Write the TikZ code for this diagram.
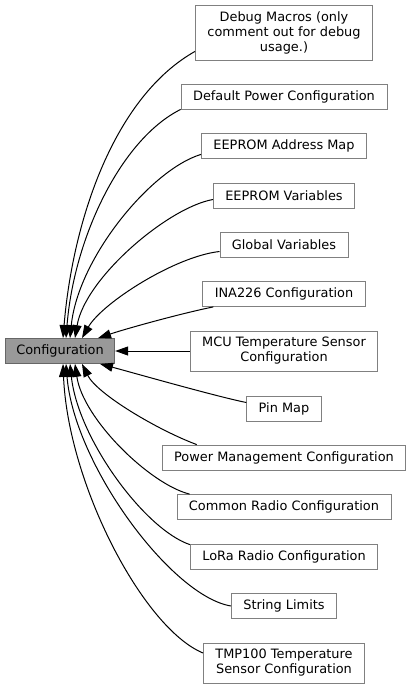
\documentclass[tikz,border=0pt]{standalone}
\usepackage{fontspec}
\setmainfont{DejaVu Sans}
\usetikzlibrary{arrows.meta}

\definecolor{boxgray}{HTML}{808080}
\definecolor{curgray}{HTML}{999999}
\definecolor{curline}{HTML}{666666}

\begin{document}
\begin{tikzpicture}
      [x=1pt,y=-1pt,
       every node/.style={draw=boxgray,fill=white,line width=0.8pt,
         inner xsep=12pt,inner ysep=2pt,minimum height=25pt,align=center,
         font=\fontsize{12.9}{15}\selectfont}]

      \tikzstyle{current} = [fill=curgray,draw=curline,inner xsep=11pt]
      \tikzstyle{conn} = [line width=1pt,-{Triangle[length=13pt,width=9pt]}]

      \useasboundingbox (0,0) rectangle (411,689);

      \node[current] (cfg) at (60,351) {Configuration};

      \node (dbg)      at (284,32.5)  [minimum height=55pt] {Debug Macros (only\\comment out for debug\\usage.)};
      \node (defpwr)   at (284,96.5)  {Default Power Configuration};
      \node (eeaddr)   at (284,145.5) {EEPROM Address Map};
      \node (eevar)    at (284,195.5) {EEPROM Variables};
      \node (globvar)  at (284,244.5) {Global Variables};
      \node (ina)      at (284,294)   {INA226 Configuration};
      \node (mcu)      at (284,351)   [minimum height=40pt] {MCU Temperature Sensor\\Configuration};
      \node (pinmap)   at (284,408.5) {Pin Map};
      \node (pwrmgmt)  at (284,457.5) {Power Management Configuration};
      \node (comradio) at (284,507)   {Common Radio Configuration};
      \node (lora)     at (284,556.5) {LoRa Radio Configuration};
      \node (strlim)   at (284,606)   {String Limits};
      \node (tmp)      at (284,663)   [minimum height=40pt] {TMP100 Temperature\\Sensor Configuration};

      % upper fan
      \draw[conn] ([yshift=9pt]dbg.south west) .. controls +(-80,45) and +(10,-120) .. ([xshift=3pt]cfg.north);
      \draw[conn] (defpwr.south west) .. controls +(-60,30) and +(8,-100) .. ([xshift=6pt]cfg.north);
      \draw[conn] ([yshift=4pt]eeaddr.south west) .. controls +(-50,15) and +(8,-80) .. ([xshift=10pt]cfg.north);
      \draw[conn] ([yshift=-4pt]eevar.west) .. controls +(-45,8) and +(10,-60) .. ([xshift=15pt]cfg.north);
      \draw[conn] ([yshift=-7pt]globvar.west) .. controls +(-45,5) and +(20,-35) .. ([xshift=22pt]cfg.north);
      \draw[conn] ([xshift=11pt]ina.south west) .. controls +(-30,6) and +(30,-10) .. ([xshift=38pt]cfg.north);

      \draw[conn] (mcu.west) -- (cfg.east);

      % lower fan
      \draw[conn] ([yshift=6pt]pinmap.west) .. controls +(-30,-6) and +(30,8) .. ([xshift=40pt]cfg.south);
      \draw[conn] ([xshift=35pt]pwrmgmt.north west) .. controls +(-40,-15) and +(15,30) .. ([xshift=22pt]cfg.south);
      \draw[conn] ([xshift=13pt]comradio.north west) .. controls +(-40,-10) and +(8,55) .. ([xshift=15pt]cfg.south);
      \draw[conn] ([yshift=-1pt]lora.north west) .. controls +(-45,-15) and +(8,75) .. ([xshift=10pt]cfg.south);
      \draw[conn] (strlim.west) .. controls +(-60,-10) and +(8,100) .. ([xshift=6pt]cfg.south);
      \draw[conn] ([yshift=10pt]tmp.west) .. controls +(-60,-25) and +(5,120) .. ([xshift=3pt]cfg.south);
\end{tikzpicture}
\end{document}
